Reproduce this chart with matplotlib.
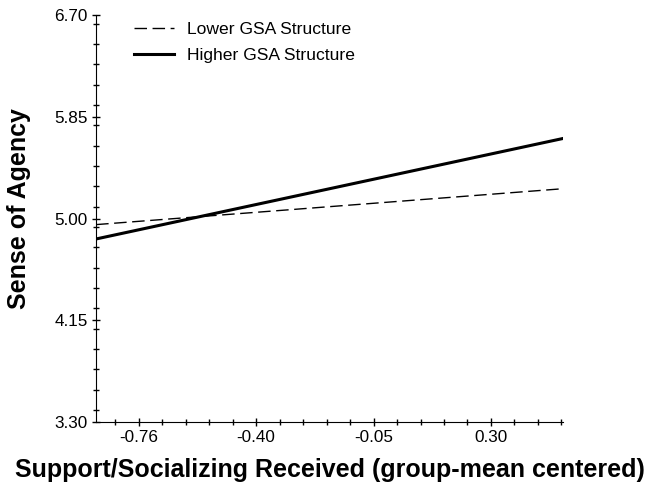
import matplotlib
matplotlib.use("Agg")
import matplotlib.pyplot as plt
from matplotlib.ticker import MultipleLocator, FixedLocator

plt.rcParams['font.family'] = ['Liberation Sans', 'DejaVu Sans']

# endpoints of the simple slopes
x_ends = [-0.882, 0.517]
lower_gsa = [4.95, 5.25]
higher_gsa = [4.83, 5.67]

xticks = [-0.755, -0.403, -0.051, 0.301]
xtick_labels = ['-0.76', '-0.40', '-0.05', '0.30']
yticks = [3.30, 4.15, 5.00, 5.85, 6.70]
ytick_labels = ['3.30', '4.15', '5.00', '5.85', '6.70']

fig = plt.figure(figsize=(6.54, 4.91), dpi=100)
ax = fig.add_axes([0.147, 0.1405, 0.714, 0.8285])

ax.plot(x_ends, lower_gsa, color='black', lw=1.0, dashes=(9, 4), label='Lower GSA Structure')
ax.plot(x_ends, higher_gsa, color='black', lw=2.2, label='Higher GSA Structure')

ax.set_xlim(x_ends[0], x_ends[1])
ax.set_ylim(3.30, 6.70)
ax.set_xticks(xticks)
ax.set_xticklabels(xtick_labels)
ax.set_yticks(yticks)
ax.set_yticklabels(ytick_labels)
ax.xaxis.set_minor_locator(FixedLocator([xticks[0] + 0.0704 * k for k in range(-1, 19)]))
ax.yaxis.set_minor_locator(MultipleLocator(0.17))

for s in ['top', 'right']:
    ax.spines[s].set_visible(False)
ax.tick_params(which='major', direction='inout', length=6, width=1, labelsize=12.3, pad=3)
ax.tick_params(which='minor', direction='inout', length=4, width=1)

ax.set_xlabel('Support/Socializing Received (group-mean centered)', fontsize=18, fontweight='bold', labelpad=9)
ax.set_ylabel('Sense of Agency', fontsize=18, fontweight='bold')
ax.yaxis.set_label_coords(-0.139, 0.525)

ax.legend(loc='upper left', bbox_to_anchor=(0.066, 1.0), frameon=False, fontsize=12.6,
          handlelength=2.3, handletextpad=0.75, labelspacing=0.6, borderpad=0, borderaxespad=0.4)

fig.savefig('out.png', dpi=100)
